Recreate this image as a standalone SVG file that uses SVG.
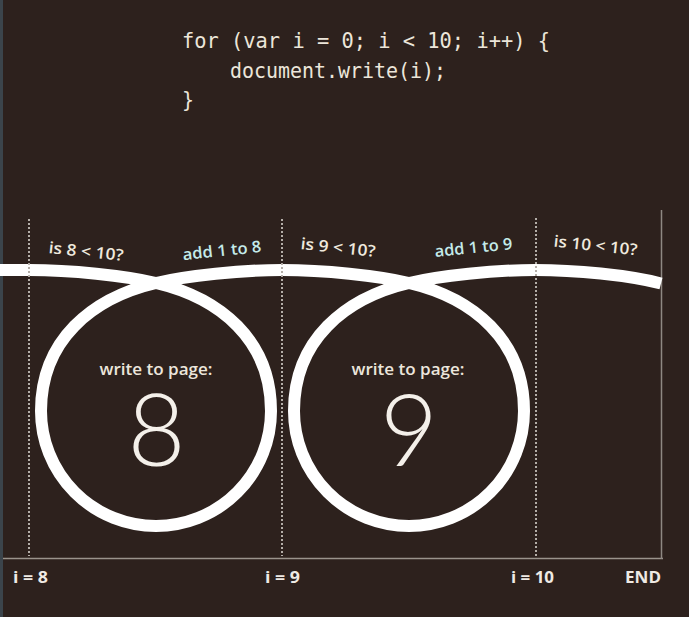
<svg xmlns="http://www.w3.org/2000/svg" width="689" height="617" viewBox="0 0 689 617">
  <style>
    .code { font-family: "DejaVu Sans Mono", "Liberation Mono", monospace; font-size: 22px; fill: #ece6da; }
    .lbl { font-family: "Open Sans", "Liberation Sans", sans-serif; font-size: 16px; font-weight: 600; }
    .q { fill: #efe9de; }
    .add { fill: #c4ebea; }
    .wtp { font-family: "Open Sans", "Liberation Sans", sans-serif; font-size: 16px; font-weight: 600; fill: #ece6dc; text-anchor: middle; }
    .big { font-family: "Lato", "Open Sans", sans-serif; font-size: 100px; font-weight: 300; fill: #f4f0ea; text-anchor: middle; }
    .bot { font-family: "Open Sans", "Liberation Sans", sans-serif; font-size: 16px; font-weight: 700; fill: #efeae4; }
    .band { fill: none; stroke: #ffffff; stroke-width: 12; }
    .dots { stroke: #b4aea8; stroke-width: 2; stroke-dasharray: 2 2; }
  </style>
  <rect x="0" y="0" width="689" height="617" fill="#2d211d"/>
  <rect x="0" y="0" width="3" height="617" fill="#3b444b"/>

  <g id="code">
    <text class="code" x="182" y="48" textLength="368" lengthAdjust="spacingAndGlyphs">for (var i = 0; i &lt; 10; i++) {</text>
    <text class="code" x="230" y="78" textLength="216" lengthAdjust="spacingAndGlyphs">document.write(i);</text>
    <text class="code" x="182" y="107" textLength="12" lengthAdjust="spacingAndGlyphs">}</text>
  </g>

  <g id="frame">
    <line x1="3" y1="558.5" x2="663" y2="558.5" stroke="#9a938c" stroke-width="1.5"/>
    <line x1="661.5" y1="210" x2="661.5" y2="559" stroke="#8e8882" stroke-width="1.5"/>
  </g>

  <g id="connectors">
    <path id="band" class="band" d="M 0 270 L 29 270 C 70 270 125 275.5 156 283 C 220 298 271 340 271 411 A 115 115 0 0 1 41 411 C 41 340 92 298 156 283 C 187 275.5 242 270 282 270 C 323 270 378 275.5 409 283 C 473 298 524 340 524 411 A 115 115 0 0 1 294 411 C 294 340 345 298 409 283 C 440 275.5 495 270 535 270 C 575 270 628 275 661 283.5"/>
  </g>

  <g id="steps">
    <line class="dots" x1="29" y1="219" x2="29" y2="556"/>
    <line class="dots" x1="282" y1="219" x2="282" y2="556"/>
    <line class="dots" x1="536" y1="218" x2="536" y2="556"/>
  </g>

  <g id="loop-8">
    <text class="lbl q" x="85.5" y="257" text-anchor="middle" textLength="75" lengthAdjust="spacingAndGlyphs" transform="rotate(6 85.5 257)">is 8 &lt; 10?</text>
    <text class="lbl add" x="222.5" y="256" text-anchor="middle" textLength="79" lengthAdjust="spacingAndGlyphs" transform="rotate(-6 222.5 256)">add 1 to 8</text>
    <text class="wtp" x="156" y="375" textLength="113" lengthAdjust="spacingAndGlyphs">write to page:</text>
    <text class="big" x="156.5" y="466">8</text>
  </g>

  <g id="loop-9">
    <text class="lbl q" x="337.5" y="253" text-anchor="middle" textLength="75" lengthAdjust="spacingAndGlyphs" transform="rotate(6 337.5 253)">is 9 &lt; 10?</text>
    <text class="lbl add" x="474" y="253" text-anchor="middle" textLength="78" lengthAdjust="spacingAndGlyphs" transform="rotate(-6 474 253)">add 1 to 9</text>
    <text class="wtp" x="408" y="375" textLength="113" lengthAdjust="spacingAndGlyphs">write to page:</text>
    <text class="big" x="409" y="466">9</text>
  </g>

  <g id="end-test">
    <text class="lbl q" x="595" y="251" text-anchor="middle" textLength="84" lengthAdjust="spacingAndGlyphs" transform="rotate(6 595 251)">is 10 &lt; 10?</text>
  </g>

  <g id="axis-labels">
    <text class="bot" x="13" y="583" textLength="35" lengthAdjust="spacingAndGlyphs">i = 8</text>
    <text class="bot" x="265" y="583" textLength="35" lengthAdjust="spacingAndGlyphs">i = 9</text>
    <text class="bot" x="511" y="583" textLength="43" lengthAdjust="spacingAndGlyphs">i = 10</text>
    <text class="bot" x="625" y="583" textLength="36" lengthAdjust="spacingAndGlyphs">END</text>
  </g>
</svg>
